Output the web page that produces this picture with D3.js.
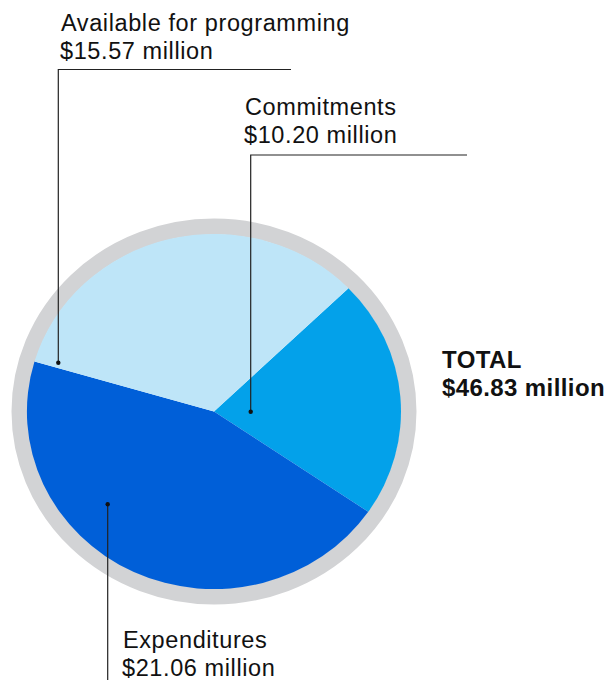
<!DOCTYPE html>
<html>
<head>
<meta charset="utf-8">
<script src="https://cdn.jsdelivr.net/npm/d3@7"></script>
<style>
  body { margin: 0; background: #fff; }
  text { font-family: "Liberation Sans", Arial, sans-serif; fill: #111; }
</style>
</head>
<body>
<div id="main"></div>
<script>
const categories = ["Commitments", "Expenditures", "Available for programming"];
const values = [10.20, 21.06, 15.57];
const colors = ["#03a1ea", "#005fd8", "#bee5f8"];
const totalLabel = ["TOTAL", "$46.83 million"];

const width = 608;
const height = 680;

const cx = 214;
const cy = 411.5;
const rx = 187;
const ry = 177.5;
const ring = 16;

const svg = d3.select("#main")
  .append("svg")
  .attr("width", width)
  .attr("height", height);

// grey outer ring
svg.append("ellipse")
  .attr("cx", cx)
  .attr("cy", cy)
  .attr("rx", rx + ring / 2 - 0.5)
  .attr("ry", ry + ring / 2 - 0.5)
  .attr("fill", "none")
  .attr("stroke", "#d2d3d5")
  .attr("stroke-width", ring);

const start = 46 * Math.PI / 180;
const pie = d3.pie()
  .sort(null)
  .startAngle(start)
  .endAngle(start + 2 * Math.PI);

const arcs = pie(values);
const arc = d3.arc().innerRadius(0).outerRadius(1);

// unit pie, stretched to the ellipse
const g = svg.append("g")
  .attr("transform", "translate(" + cx + "," + cy + ") scale(" + rx + "," + ry + ")");

g.selectAll("path")
  .data(arcs)
  .enter()
  .append("path")
  .attr("d", arc)
  .attr("fill", (d, i) => colors[i]);

// leader lines: dot in the slice, line up/down to the label
const leaders = [
  { dot: [250.7, 411.7], path: [[250.7, 155], [467, 155]], text: [245, 115] },
  { dot: [107.7, 504.3], path: [[107.7, 680]], text: [123, 648] },
  { dot: [58.3, 362.7], path: [[58.3, 69.5], [291, 69.5]], text: [61, 31] }
];

leaders.forEach((l, i) => {
  const pts = [l.dot].concat(l.path);
  svg.append("path")
    .attr("d", d3.line()(pts))
    .attr("fill", "none")
    .attr("stroke", "#222")
    .attr("stroke-width", 1.2);

  svg.append("circle")
    .attr("cx", l.dot[0])
    .attr("cy", l.dot[1])
    .attr("r", 2.2)
    .attr("fill", "#111");

  const t = svg.append("text")
    .attr("x", l.text[0])
    .attr("y", l.text[1])
    .style("font-size", "23.5px")
    .style("letter-spacing", "0.6px");
  t.append("tspan")
    .attr("x", l.text[0])
    .text(categories[i]);
  t.append("tspan")
    .attr("x", l.text[0] - 1)
    .attr("dy", 27.5)
    .text("$" + values[i].toFixed(2) + " million");
});

const tot = svg.append("text")
  .attr("x", 442)
  .attr("y", 368)
  .style("font-size", "24px")
  .style("font-weight", "bold")
  .style("letter-spacing", "0.4px");
tot.append("tspan").attr("x", 442).text(totalLabel[0]);
tot.append("tspan").attr("x", 442).attr("dy", 27.5).text(totalLabel[1]);
</script>
</body>
</html>
